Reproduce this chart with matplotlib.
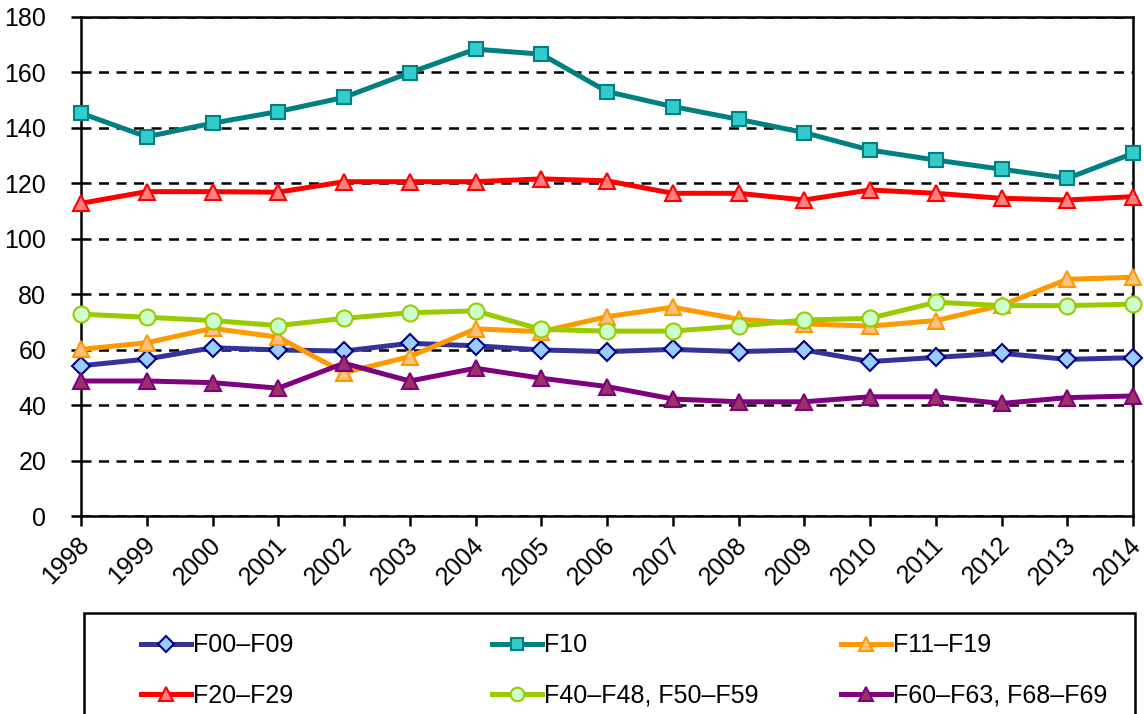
import matplotlib
matplotlib.use('Agg')
import matplotlib.pyplot as plt
import matplotlib.transforms as mtransforms
from matplotlib.patches import Rectangle

plt.rcParams['font.family'] = ['Liberation Sans', 'DejaVu Sans']

years = list(range(1998, 2015))
year_labels = [str(y) for y in years]

f00_f09 = [54.2, 56.6, 60.7, 59.9, 59.5, 62.3, 61.4, 59.9, 59.3, 60.1, 59.3, 59.9, 55.7, 57.2, 58.7, 56.5, 57.1]
f10 = [145.3, 136.8, 141.7, 145.9, 151.0, 159.9, 168.4, 166.6, 153.1, 147.7, 143.1, 138.3, 132.0, 128.4, 125.1, 121.8, 130.8]
f11_f19 = [60.1, 62.5, 67.7, 64.5, 51.7, 57.5, 67.5, 66.5, 71.9, 75.3, 71.0, 69.3, 68.5, 70.5, 76.0, 85.4, 86.1]
f20_f29 = [112.8, 117.0, 117.0, 116.8, 120.6, 120.6, 120.6, 121.6, 120.9, 116.4, 116.4, 114.0, 117.6, 116.4, 114.6, 114.0, 115.2]
f40_f59 = [72.8, 71.7, 70.5, 68.7, 71.3, 73.3, 74.0, 67.3, 66.7, 66.7, 68.5, 70.7, 71.3, 77.1, 75.9, 75.9, 76.4]
f60_f69 = [48.7, 48.7, 48.1, 46.1, 55.1, 48.7, 53.3, 49.7, 46.7, 42.2, 41.2, 41.2, 43.0, 43.0, 40.6, 42.7, 43.3]

series = [
    ('F00–F09', f00_f09, '#333399', '#99CCFF', '#000080', 'D', 9.5),
    ('F10', f10, '#008080', '#33CCCC', '#008080', 's', 10.5),
    ('F11–F19', f11_f19, '#FF9900', '#FFC080', '#FF9900', '^', 11.5),
    ('F20–F29', f20_f29, '#FF0000', '#FF8080', '#FF0000', '^', 11.5),
    ('F40–F48, F50–F59', f40_f59, '#99CC00', '#CCFFCC', '#99CC00', 'o', 11.5),
    ('F60–F63, F68–F69', f60_f69, '#800080', '#993366', '#800080', '^', 11.5),
]

fig = plt.figure(figsize=(11.44, 7.14), dpi=100)
ax = fig.add_axes([81 / 1144, 1 - 516 / 714, (1133 - 81) / 1144, (516 - 17) / 714])

handles = []
for name, vals, lc, fc, ec, mk, ms in series:
    h, = ax.plot(years, vals, color=lc, lw=3.6, marker=mk, ms=ms,
                 markerfacecolor=fc, markeredgecolor=ec, markeredgewidth=1.5,
                 label=name, clip_on=False, zorder=3)
    handles.append(h)

ax.set_xlim(1998, 2014)
ax.set_ylim(0, 180)
ax.set_yticks(range(0, 181, 20))
ax.set_xticks(years)
ax.set_xticklabels(year_labels, rotation=45, ha='right', rotation_mode='anchor')
ax.tick_params(axis='both', labelsize=18, length=7, width=1.8, direction='out', color='black')
ax.tick_params(axis='y', pad=18)
ax.tick_params(axis='x', pad=5)
shift = mtransforms.ScaledTranslation(-4 / 100, 0, fig.dpi_scale_trans)
for lbl in ax.get_xticklabels():
    lbl.set_transform(lbl.get_transform() + shift)
ax.yaxis.grid(True, color='black', linestyle=(0, (4, 3)), linewidth=1.8)
ax.set_axisbelow(True)
for sp in ax.spines.values():
    sp.set_linewidth(1.8)
    sp.set_color('black')

# legend box (cut by the bottom edge like the original)
fig.patches.append(Rectangle((84 / 1144, -0.1), (1135 - 84) / 1144, 0.1 + 1 - 613 / 714,
                             transform=fig.transFigure, fill=False, edgecolor='black',
                             linewidth=1.8, zorder=5))

col_x = [128 / 1144, 479 / 1144, 828 / 1144]
for i, x in enumerate(col_x):
    fig.legend(handles=[handles[i], handles[i + 3]], loc='upper left',
               bbox_to_anchor=(x, 1 - 621 / 714), frameon=False, fontsize=18,
               handlelength=2.0, handletextpad=0.1, labelspacing=1.05,
               borderpad=0.0, markerscale=0.85)

fig.savefig('out.png', dpi=100)
